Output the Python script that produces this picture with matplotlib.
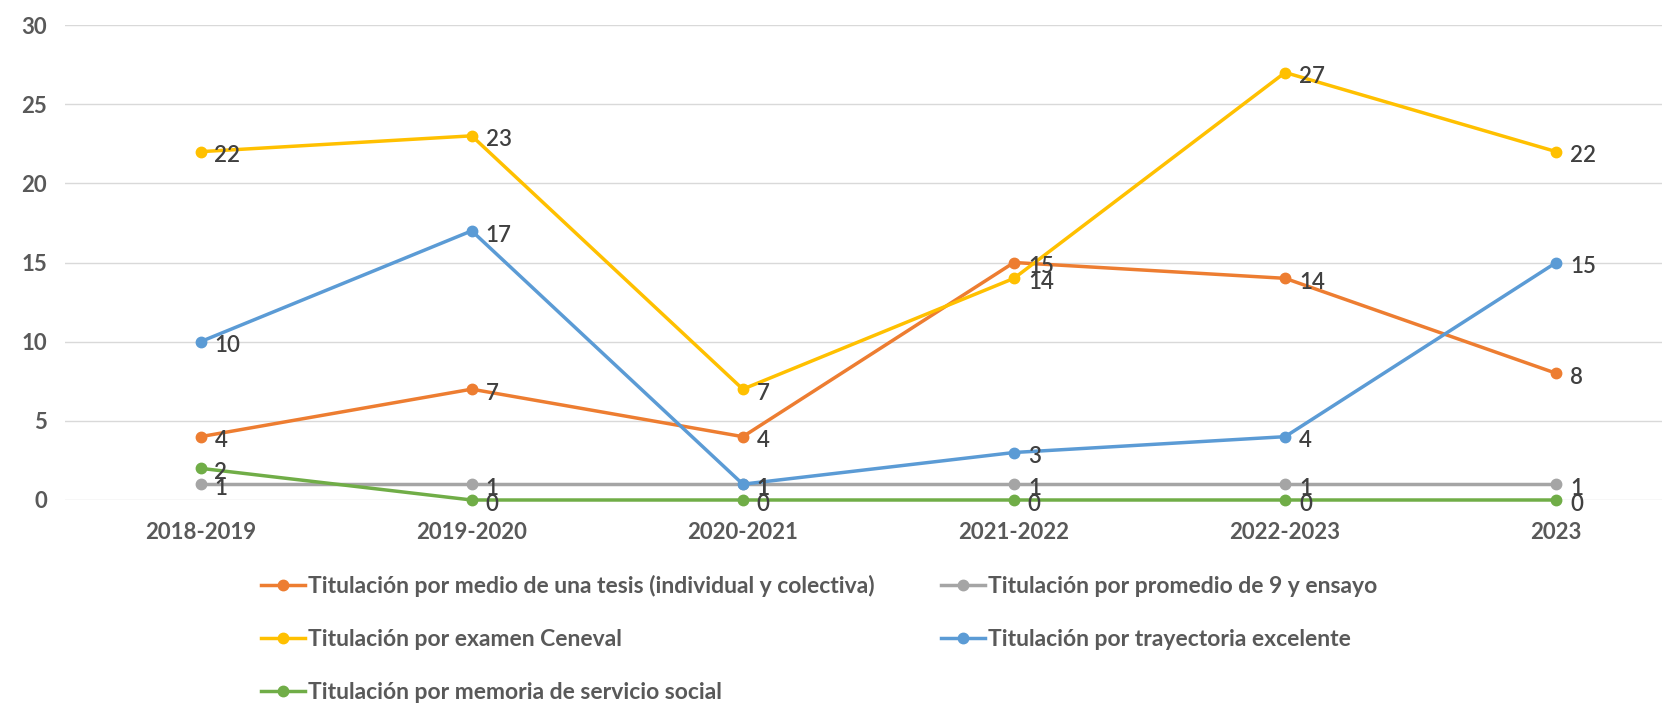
import matplotlib.pyplot as plt

plt.rcParams['font.family'] = ['Lato', 'DejaVu Sans']

periods = ['2018-2019', '2019-2020', '2020-2021', '2021-2022', '2022-2023', '2023']
tesis = [4, 7, 4, 15, 14, 8]
promedio = [1, 1, 1, 1, 1, 1]
ceneval = [22, 23, 7, 14, 27, 22]
trayectoria = [10, 17, 1, 3, 4, 15]
memoria = [2, 0, 0, 0, 0, 0]

series = [
    ('Titulación por medio de una tesis (individual y colectiva)', tesis, '#ED7D31'),
    ('Titulación por promedio de 9 y ensayo', promedio, '#A5A5A5'),
    ('Titulación por examen Ceneval', ceneval, '#FFC000'),
    ('Titulación por trayectoria excelente', trayectoria, '#5B9BD5'),
    ('Titulación por memoria de servicio social', memoria, '#70AD47'),
]

fig = plt.figure(figsize=(16.62, 7.1), dpi=100)
ax = fig.add_axes([65 / 1662, 210 / 710, 1 - 65 / 1662, 475 / 710])

x = list(range(len(periods)))
handles = {}
for name, vals, color in series:
    line, = ax.plot(x, vals, color=color, lw=2.5, marker='o', markersize=7.5,
                    label=name, clip_on=False)
    handles[name] = line
    for xi, v in zip(x, vals):
        ax.annotate(str(v), (xi, v), xytext=(10, -3), textcoords='offset points',
                    ha='left', va='center', fontsize=16, color='#404040',
                    fontweight='semibold')

ax.set_ylim(0, 30)
ax.set_xlim(-0.5, 5.39)
ax.set_yticks(range(0, 31, 5))
ax.set_xticks(x)
ax.set_xticklabels(periods)
ax.grid(axis='y', color='#D9D9D9', lw=1)
ax.set_axisbelow(True)
for s in ax.spines.values():
    s.set_visible(False)
ax.tick_params(length=0, labelsize=16, labelcolor='#595959', pad=16)
ax.tick_params(axis='y', pad=13)
for lbl in ax.get_xticklabels() + ax.get_yticklabels():
    lbl.set_fontweight('bold')

# legend fills column by column: tesis, Ceneval, memoria | promedio, trayectoria
order = [series[0][0], series[2][0], series[4][0], series[1][0], series[3][0]]
leg = fig.legend([handles[n] for n in order], order, ncol=2,
                 loc='upper left', bbox_to_anchor=(252 / 1662, 1 - 566 / 710),
                 frameon=False, fontsize=16.5, labelcolor='#595959',
                 handlelength=1.9, handletextpad=0.15, columnspacing=2.9,
                 labelspacing=1.4, borderaxespad=0)
for t in leg.get_texts():
    t.set_fontweight('bold')

fig.savefig('out.png', dpi=100)
